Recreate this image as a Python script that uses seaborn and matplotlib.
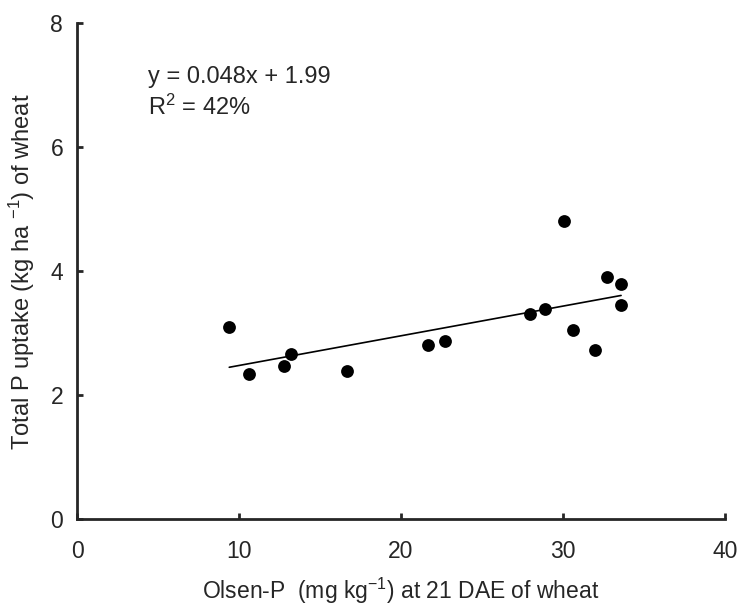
import seaborn as sns
import matplotlib.pyplot as plt
import numpy as np

# Olsen-P at 21 DAE vs total P uptake of wheat
olsen_p = [9.4, 10.6, 12.8, 13.2, 16.7, 21.7, 22.7, 28.0, 28.9, 30.1, 30.6, 32.0, 32.7, 33.6, 33.6]
p_uptake = [3.10, 2.34, 2.48, 2.66, 2.40, 2.81, 2.87, 3.31, 3.39, 4.81, 3.06, 2.73, 3.90, 3.79, 3.45]

x_ticks = [0, 10, 20, 30, 40]
y_ticks = [0, 2, 4, 6, 8]

sns.set_style('ticks')
plt.rcParams['font.family'] = ['Liberation Sans', 'DejaVu Sans']
plt.rcParams['mathtext.fontset'] = 'custom'
plt.rcParams['mathtext.rm'] = 'Liberation Sans'
plt.rcParams['mathtext.it'] = 'Liberation Sans:italic'

fig = plt.figure(figsize=(7.41, 6.11), dpi=100)
ax = fig.add_axes([0.104, 0.150, 0.874, 0.812])

sns.regplot(x=olsen_p, y=p_uptake, ci=None, ax=ax,
            scatter_kws={'s': 85, 'color': 'black', 'alpha': 1, 'linewidths': 0},
            line_kws={'color': 'black', 'lw': 1.2})

ax.set_xlim(0, 40)
ax.set_ylim(0, 8)
ax.set_xticks(x_ticks)
ax.set_yticks(y_ticks)
ax.tick_params(direction='in', length=4, width=2, labelsize=16.5)
ax.tick_params(axis='x', pad=15)
ax.tick_params(axis='y', pad=10)
sns.despine(ax=ax)
ax.spines['left'].set_linewidth(2)
ax.spines['bottom'].set_linewidth(2)

ax.set_xlabel(r'Olsen-P  (mg kg$^{-1}$) at 21 DAE of wheat', fontsize=16.5, labelpad=9)
ax.set_ylabel(r'Total P uptake (kg ha $^{-1}$) of wheat', fontsize=17, labelpad=10)

ax.text(4.4, 7.03, 'y = 0.048x + 1.99', fontsize=17, va='baseline')
ax.text(4.4, 6.52, r'R$^2$ = 42%', fontsize=17, va='baseline')

fig.savefig('out.png', dpi=100)
